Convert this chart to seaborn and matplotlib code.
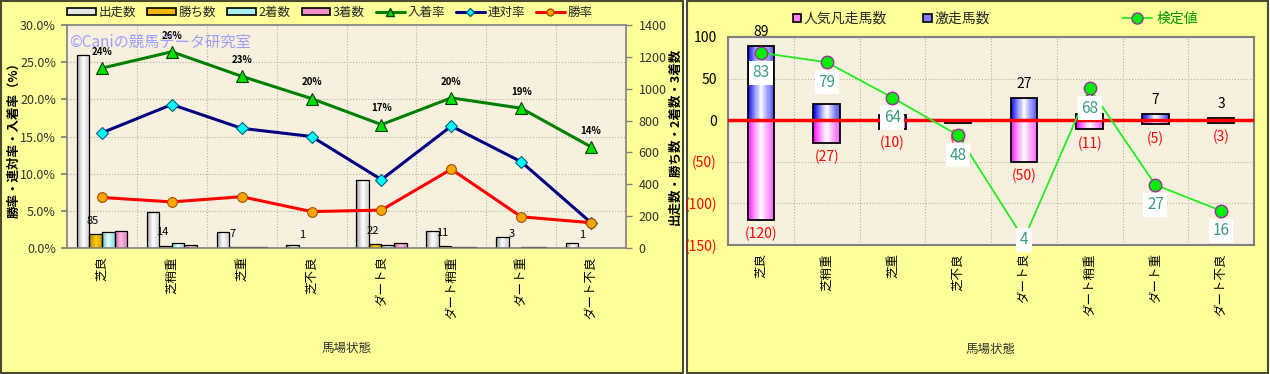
import numpy as np
import pandas as pd
import matplotlib
matplotlib.use("Agg")
import matplotlib.pyplot as plt
import seaborn as sns
from matplotlib.colors import LinearSegmentedColormap
from matplotlib.patches import Rectangle
from matplotlib.lines import Line2D
from matplotlib.ticker import FuncFormatter, MultipleLocator

# ---------------- data ----------------
cats = ['芝良', '芝稍重', '芝重', '芝不良', 'ダート良', 'ダート稍重', 'ダート重', 'ダート不良']

# left chart (counts on right axis)
runs = [1214, 226, 100, 20, 427, 105, 71, 29]
wins = [85, 14, 7, 1, 22, 11, 3, 1]
second = [102, 29, 9, 2, 17, 6, 5, 0]
third = [104, 16, 7, 1, 31, 4, 5, 3]
# rates (%) on left axis
place_rate = [24.2, 26.4, 23.1, 20.1, 16.6, 20.2, 18.8, 13.6]
rentai_rate = [15.5, 19.3, 16.1, 15.0, 9.2, 16.4, 11.6, 3.4]
win_rate = [6.8, 6.2, 6.9, 4.9, 5.1, 10.6, 4.2, 3.4]

# right chart
gekiso = [89, 20, 6, 0, 27, 8, 7, 3]
ninki_bonso = [-120, -27, -10, -3, -50, -11, -5, -3]
kentei = [83, 79, 64, 48, 4, 68, 27, 16]

bar_names = ['出走数', '勝ち数', '2着数', '3着数']

# ---------------- style ----------------
sns.set_theme(style='white')
plt.rcParams['font.family'] = ['Noto Sans CJK JP', 'DejaVu Sans']
plt.rcParams['axes.unicode_minus'] = False

W, H = 1270, 374
fig = plt.figure(figsize=(W / 100, H / 100), dpi=100, facecolor='white')

# panel backgrounds
for (x0, x1) in [(1, 683), (687, 1268)]:
    fig.patches.append(Rectangle((x0 / W, 1 / H), (x1 - x0) / W, (H - 2) / H,
                                 transform=fig.transFigure, facecolor='#FFFF99',
                                 edgecolor='#4A4A30', linewidth=1.5, zorder=-10))

plot_bg = '#F7F0DF'
grid_kw = dict(color='#B8B0A0', linestyle=':', linewidth=0.8)


def grad_cmap(cols):
    return LinearSegmentedColormap.from_list('g', cols)


def gradient_fill(ax, bars, cmap, n=24):
    """Paint each seaborn bar with a horizontal colour gradient (thin strips)."""
    for b in bars:
        x, y = b.get_x(), b.get_y()
        w, h = b.get_width(), b.get_height()
        if h == 0:
            continue
        for k in range(n):
            ax.add_patch(Rectangle((x + k * w / n, y), w / n * 1.02, h,
                                   facecolor=cmap(k / (n - 1)), edgecolor='none',
                                   linewidth=0, zorder=b.get_zorder() - 0.01))
        b.set_facecolor('none')


# ================= LEFT CHART =================
ax1 = fig.add_axes([67 / W, 1 - 248 / H, (626 - 67) / W, (248 - 25) / H])
ax1.set_facecolor(plot_bg)

df_bar = pd.DataFrame({
    '馬場状態': cats * 4,
    'series': sum([[s] * len(cats) for s in bar_names], []),
    'value': runs + wins + second + third,
})
bar_pal = {'出走数': '#E6E6E6', '勝ち数': '#F0B800', '2着数': '#A8F0F0', '3着数': '#F090C8'}
sns.barplot(data=df_bar, x='馬場状態', y='value', hue='series', order=cats,
            hue_order=bar_names, palette=bar_pal, width=0.72, saturation=1,
            edgecolor='black', linewidth=0.9, errorbar=None, legend=False, ax=ax1)
cmaps_left = [grad_cmap(['#9A9A9A', '#FFFFFF', '#D0D0D0']),
              grad_cmap(['#B88A00', '#FFCC00', '#D4A000']),
              grad_cmap(['#70C8C8', '#E6FFFF', '#90E0E0']),
              grad_cmap(['#D060A0', '#FFC0E0', '#E080C0'])]
for cont, cm in zip(ax1.containers, cmaps_left):
    gradient_fill(ax1, cont, cm)

ax1.set_xlim(-0.5, len(cats) - 0.5)
ax1.set_ylim(0, 1400)
ax1.set_xlabel('馬場状態', fontsize=9, color='#333333')
ax1.xaxis.set_label_coords(0.5, -0.42)
ax1.set_xticks(range(len(cats)))
ax1.set_xticklabels(cats, rotation=90, fontsize=9, color='black')
ax1.tick_params(axis='x', length=0, pad=6)
ax1.set_xticks(np.arange(len(cats) - 1) + 0.5, minor=True)
ax1.tick_params(axis='x', which='minor', length=0)
ax1.grid(False)
ax1.grid(True, which='minor', axis='x', **grid_kw)
ax1.set_axisbelow(True)
for s in ax1.spines.values():
    s.set_color('#808080')
    s.set_linewidth(1.2)
for yv in np.arange(5, 30, 5):
    ax1.axhline(yv / 30 * 1400, zorder=0.5, **grid_kw)

# wins labels above the win bars
for b, v in zip(ax1.containers[1], wins):
    ax1.annotate(f'{v}', (b.get_x() + b.get_width() / 2, b.get_height()),
                 xytext=(-2, 6), textcoords='offset points', ha='center', va='bottom',
                 fontsize=8, color='black')

ax2 = ax1.twinx()
# counts axis on the right, rates axis on the left
ax1.yaxis.tick_right()
ax1.yaxis.set_label_position('right')
ax1.yaxis.set_major_locator(MultipleLocator(200))
ax1.tick_params(axis='y', which='both', left=False, labelleft=False, right=True,
                labelright=True, direction='out', length=4, width=1, colors='#808080',
                labelcolor='#333333', labelsize=9, pad=5)
ax1.set_ylabel('出走数・勝ち数・2着数・3着数', fontsize=9, fontweight='bold', color='black')
ax1.yaxis.set_label_coords(1.077, 0.5)

ax2.set_ylim(0, 30)
ax2.yaxis.tick_left()
ax2.yaxis.set_label_position('left')
ax2.yaxis.set_major_locator(MultipleLocator(5))
ax2.yaxis.set_major_formatter(FuncFormatter(lambda v, p: f'{v:.1f}%'))
ax2.tick_params(axis='y', which='both', left=True, labelleft=True, right=False,
                labelright=False, direction='out', length=4, colors='#808080',
                labelcolor='#333333', labelsize=9, pad=4)
ax2.set_ylabel('勝率・連対率・入着率（%）', fontsize=9, fontweight='bold', color='black')
ax2.yaxis.set_label_coords(-0.083, 0.5)
for s in ax2.spines.values():
    s.set_visible(False)

xi = np.arange(len(cats))
sns.lineplot(x=xi, y=place_rate, ax=ax2, color='#008000', linewidth=2.2, marker='^',
             markersize=9, markerfacecolor='#00E000', markeredgecolor='#004000',
             markeredgewidth=0.8, sort=False)
sns.lineplot(x=xi, y=rentai_rate, ax=ax2, color='#000080', linewidth=2.2, marker='D',
             markersize=6, markerfacecolor='#00FFFF', markeredgecolor='#006080',
             markeredgewidth=0.8, sort=False)
sns.lineplot(x=xi, y=win_rate, ax=ax2, color='#FF0000', linewidth=2.2, marker='o',
             markersize=7, markerfacecolor='#FFA500', markeredgecolor='#A05000',
             markeredgewidth=0.8, sort=False)
ax2.set_xlim(-0.5, len(cats) - 0.5)
for i, v in enumerate(place_rate):
    ax2.annotate(f'{v:.0f}%', (i, v), xytext=(0, 8), textcoords='offset points',
                 ha='center', va='bottom', fontsize=7, fontweight='bold', color='black')

ax2.text(0.003, 0.9, '©Caniの競馬データ研究室', transform=ax2.transAxes,
         color='#9E9EFF', fontsize=11)

handles = [Rectangle((0, 0), 1, 1, facecolor=bar_pal[n], edgecolor='black', linewidth=1.2)
           for n in bar_names]
handles += [Line2D([], [], color='#008000', lw=2.2, marker='^', ms=6, mfc='#00E000', mec='#004000'),
            Line2D([], [], color='#000080', lw=2.2, marker='D', ms=4, mfc='#00FFFF', mec='#006080'),
            Line2D([], [], color='#FF0000', lw=2.2, marker='o', ms=5, mfc='#FFA500', mec='#A05000')]
labels = bar_names + ['入着率', '連対率', '勝率']
ax2.legend(handles, labels, loc='lower center', bbox_to_anchor=(0.47, 1.0), ncol=7,
           frameon=False, fontsize=9, handlelength=2.3, handleheight=0.5,
           columnspacing=0.9, handletextpad=0.2, borderaxespad=0.1)

# ================= RIGHT CHART =================
ax3 = fig.add_axes([728 / W, 1 - 245 / H, (1254 - 728) / W, (245 - 37) / H])
ax3.set_facecolor(plot_bg)
df_r = pd.DataFrame({
    '馬場状態': cats * 2,
    'series': ['人気凡走馬数'] * len(cats) + ['激走馬数'] * len(cats),
    'value': ninki_bonso + gekiso,
})
r_pal = {'人気凡走馬数': '#FF80FF', '激走馬数': '#8080FF'}
sns.barplot(data=df_r, x='馬場状態', y='value', hue='series', order=cats,
            hue_order=['人気凡走馬数', '激走馬数'], palette=r_pal, dodge=False,
            width=0.4, saturation=1, edgecolor='black', linewidth=1.3,
            errorbar=None, legend=False, ax=ax3)
gradient_fill(ax3, ax3.containers[0], grad_cmap(['#FF20FF', '#FFFFFF', '#FF60FF']))
gradient_fill(ax3, ax3.containers[1], grad_cmap(['#1010FF', '#FFFFFF', '#5050FF']))
ax3.set_xlim(-0.5, len(cats) - 0.5)
ax3.set_ylim(-150, 100)
ax3.yaxis.set_major_locator(MultipleLocator(50))
ax3.yaxis.set_major_formatter(FuncFormatter(lambda v, p: f'({abs(v):.0f})' if v < 0 else f'{v:.0f}'))
ax3.tick_params(axis='y', length=0, labelsize=10, pad=8)
ax3.axhline(0, color='#FF0000', linewidth=2.5, zorder=4)
ax3.set_xticks(range(len(cats)))
ax3.set_xticklabels(cats, rotation=90, fontsize=9, color='black')
ax3.tick_params(axis='x', length=0, pad=6)
ax3.set_xticks(np.arange(len(cats) - 1) + 0.5, minor=True)
ax3.tick_params(axis='x', which='minor', length=0)
ax3.grid(False)
ax3.grid(True, which='minor', axis='x', **grid_kw)
ax3.grid(True, which='major', axis='y', **grid_kw)
ax3.set_axisbelow(True)
ax3.set_ylabel('')
ax3.set_xlabel('馬場状態', fontsize=9, color='#333333')
ax3.xaxis.set_label_coords(0.5, -0.47)
for s in ax3.spines.values():
    s.set_color('#808080')
    s.set_linewidth(1.5)

for b, v in zip(ax3.containers[1], gekiso):
    if v != 0:
        ax3.annotate(f'{v}', (b.get_x() + b.get_width() / 2, v), xytext=(0, 5),
                     textcoords='offset points', ha='center', va='bottom', fontsize=10,
                     color='black')
for b, v in zip(ax3.containers[0], ninki_bonso):
    ax3.annotate(f'({abs(v)})', (b.get_x() + b.get_width() / 2, v), xytext=(0, -5),
                 textcoords='offset points', ha='center', va='top', fontsize=10,
                 color='#FF0000')

ax4 = ax3.twinx()
ax4.set_ylim(1.5, 89.7)
ax4.set_yticks([])
for s in ax4.spines.values():
    s.set_visible(False)
sns.lineplot(x=xi, y=kentei, ax=ax4, color='#22EE22', linewidth=1.3, marker='o',
             markersize=9, markerfacecolor='#00EE00', markeredgecolor='#993399',
             markeredgewidth=1.0, sort=False, zorder=5)
ax4.set_xlim(-0.5, len(cats) - 0.5)
fig.canvas.draw()
for lbl in ax3.get_yticklabels():
    lbl.set_color('#FF0000' if lbl.get_position()[1] < 0 else 'black')
bottom_px = ax4.transAxes.transform((0, 0))[1]
for i, v in enumerate(kentei):
    px = ax4.transData.transform((i, v))
    ly = max(px[1] - 20, bottom_px + 5)
    ly_d = ax4.transData.inverted().transform((px[0], ly))[1]
    ax4.text(i, ly_d, f'{v}', ha='center', va='center', fontsize=11, color='#3A9A7A',
             zorder=6, bbox=dict(facecolor='white', edgecolor='none', pad=2.5))

h_r = [Rectangle((0, 0), 1, 1, facecolor='#FF80FF', edgecolor='black', linewidth=1.2),
       Rectangle((0, 0), 1, 1, facecolor='#8080FF', edgecolor='black', linewidth=1.2)]
leg1 = ax4.legend(h_r, ['人気凡走馬数', '激走馬数'], loc='lower left',
                  bbox_to_anchor=(0.11, 1.02), ncol=2, frameon=False, fontsize=10,
                  handlelength=0.6, handleheight=0.6, handletextpad=0.2,
                  columnspacing=2.6, borderaxespad=0.1)
ax4.add_artist(leg1)
leg2 = ax4.legend([Line2D([], [], color='#22EE22', lw=1.3, marker='o', ms=8,
                          mfc='#00EE00', mec='#993399')], ['検定値'],
                  loc='lower left', bbox_to_anchor=(0.735, 1.02), frameon=False,
                  fontsize=10, handlelength=2.2, handletextpad=0.3, borderaxespad=0.1)
for t in leg2.get_texts():
    t.set_color('#009900')

fig.savefig('out.png', dpi=100, facecolor=fig.get_facecolor())
